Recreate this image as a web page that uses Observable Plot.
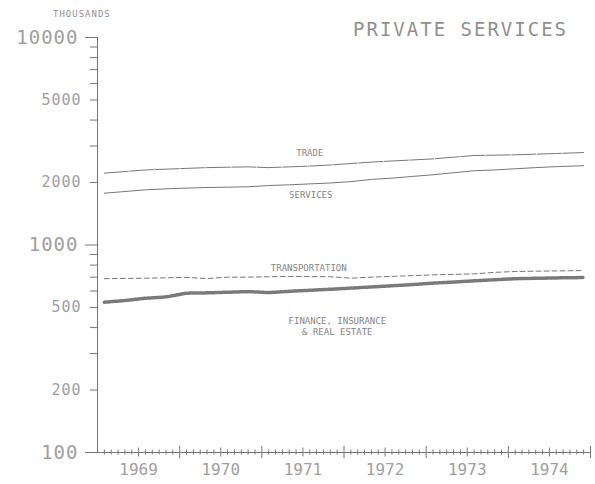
<!DOCTYPE html>
<html><head><meta charset="utf-8">
<script src="https://cdn.jsdelivr.net/npm/d3@7"></script>
<script src="https://cdn.jsdelivr.net/npm/@observablehq/plot@0.6"></script>
<style>
body{margin:0;background:#fff;}
#wrap{position:relative;width:595px;height:484px;overflow:hidden;}
#wrap svg{display:block;position:absolute;left:0;top:0;}
.t{position:absolute;font-family:"DejaVu Sans Mono",monospace;color:#909090;white-space:nowrap;line-height:1;}
g[aria-label="y-axis tick label"] text{letter-spacing:1px;}
g[aria-label="series label"] text{letter-spacing:0.7px;}
</style></head><body>
<div id="wrap">
<div class="t" style="left:353px;top:20px;font-size:19px;letter-spacing:2px;">PRIVATE SERVICES</div>
<div class="t" style="left:53px;top:10px;font-size:9px;letter-spacing:1px;">THOUSANDS</div>
</div>
<script>
// months since Jan 1969 (1 = end of Jan 1969)
const months = [1,4,7,10,13,16,19,22,25,28,31,34,37,40,43,46,49,52,55,58,61,64,67,71];
const trade = [2220,2260,2300,2320,2340,2360,2370,2380,2360,2380,2400,2430,2470,2510,2540,2570,2600,2650,2700,2710,2720,2740,2760,2790];
const services = [1777,1810,1845,1865,1880,1893,1900,1908,1935,1950,1970,1990,2020,2070,2100,2140,2180,2230,2280,2300,2330,2360,2385,2410];
const transportation = [688,690,692,695,698,689,700,700,703,705,704,703,692,700,706,712,718,722,726,738,745,748,750,753];
const finance = [530,540,554,562,586,588,592,596,590,598,605,612,620,628,636,645,655,663,672,680,688,691,694,697];

const years = [1969,1970,1971,1972,1973,1974];
const yLabelsBig = [100,1000,10000];
const yLabelsSmall = [200,500,2000,5000];
const yMinor = [300,400,600,700,800,900,3000,4000,6000,7000,8000,9000];

const startYear = years[0];
const endYear = years[years.length-1] + 1;
const toX = m => startYear + m/12;
const rows = (vals) => months.map((m,i) => ({x: toX(m), value: vals[i], month: m}));
const tradeRows = rows(trade), servicesRows = rows(services), transRows = rows(transportation), finRows = rows(finance);

const labelSpecs = [
  {text: "TRADE", src: tradeRows, month: 31, dx: 0, dy: -14},
  {text: "SERVICES", src: servicesRows, month: 31, dx: 1, dy: 10},
  {text: "TRANSPORTATION", src: transRows, month: 31, dx: -1, dy: -9},
  {text: "FINANCE, INSURANCE\n& REAL ESTATE", src: finRows, month: 34, dx: 7, dy: 37}
];
const labelMarks = labelSpecs.map(l => {
  const r = l.src.find(d => d.month === l.month);
  return Plot.text([{x: r.x, value: r.value, text: l.text}], {x: "x", y: "value", text: "text", dx: l.dx, dy: l.dy, fontSize: 9, fill: "#858585", lineHeight: 1.25, ariaLabel: "series label"});
});

const allMonths = d3.range(1, (endYear-startYear)*12 + 1);
const monthTicks = allMonths.filter(k => k % 6 !== 0).map(toX);
const midTicks = allMonths.filter(k => k % 12 === 6).map(toX);
const yearTicks = allMonths.filter(k => k % 12 === 0).map(toX);

const gray = "#777";
const labelGray = "#a0a0a0";
const font = "DejaVu Sans Mono";

const chart = Plot.plot({
  width: 595, height: 484,
  marginLeft: 97, marginRight: 5, marginTop: 37, marginBottom: 32,
  style: {background: "#fff", fontFamily: font},
  x: {domain: [startYear, endYear], axis: null},
  y: {type: "log", domain: [yLabelsBig[0], yLabelsBig[yLabelsBig.length-1]], axis: null},
  marks: [
    Plot.ruleX([startYear], {stroke: gray, strokeWidth: 1}),
    Plot.ruleY([yLabelsBig[0]], {stroke: gray, strokeWidth: 1}),
    // y axis
    Plot.axisY(yLabelsBig, {anchor: "left", tickSize: 12, tickPadding: 7, fontSize: 19, fill: labelGray, stroke: gray, tickFormat: d => String(d), label: null}),
    Plot.axisY(yLabelsSmall, {anchor: "left", tickSize: 7, tickPadding: 9, fontSize: 15, fill: labelGray, stroke: gray, tickFormat: d => String(d), label: null}),
    Plot.axisY(yMinor, {anchor: "left", tickSize: 7, fill: "none", stroke: gray, label: null}),
    // x axis ticks (crossing the axis line)
    Plot.axisX(monthTicks, {anchor: "bottom", tickSize: 5, dy: -2.5, fill: "none", stroke: gray, label: null}),
    Plot.axisX(midTicks, {anchor: "bottom", tickSize: 9, dy: -4.5, fill: "none", stroke: gray, label: null}),
    Plot.axisX(yearTicks, {anchor: "bottom", tickSize: 12, dy: -6, fill: "none", stroke: gray, label: null}),
    Plot.axisX(years.map(y => y + 0.5), {anchor: "bottom", tickSize: 0, tickPadding: 11, fontSize: 16, fill: labelGray, tickFormat: d => String(Math.floor(d)), label: null}),
    // series
    Plot.line(tradeRows, {x: "x", y: "value", stroke: gray, strokeWidth: 1, strokeDasharray: "24,1.5"}),
    Plot.line(servicesRows, {x: "x", y: "value", stroke: gray, strokeWidth: 1}),
    Plot.line(transRows, {x: "x", y: "value", stroke: gray, strokeWidth: 1, strokeDasharray: "5,3"}),
    Plot.line(finRows, {x: "x", y: "value", stroke: "#999", strokeWidth: 1}),
    Plot.line(finRows, {x: "x", y: "value", stroke: "#7a7a7a", strokeWidth: 3.5, strokeDasharray: "1.2,1.4"}),
    ...labelMarks
  ]
});
document.getElementById("wrap").prepend(chart);
</script>
</body></html>
